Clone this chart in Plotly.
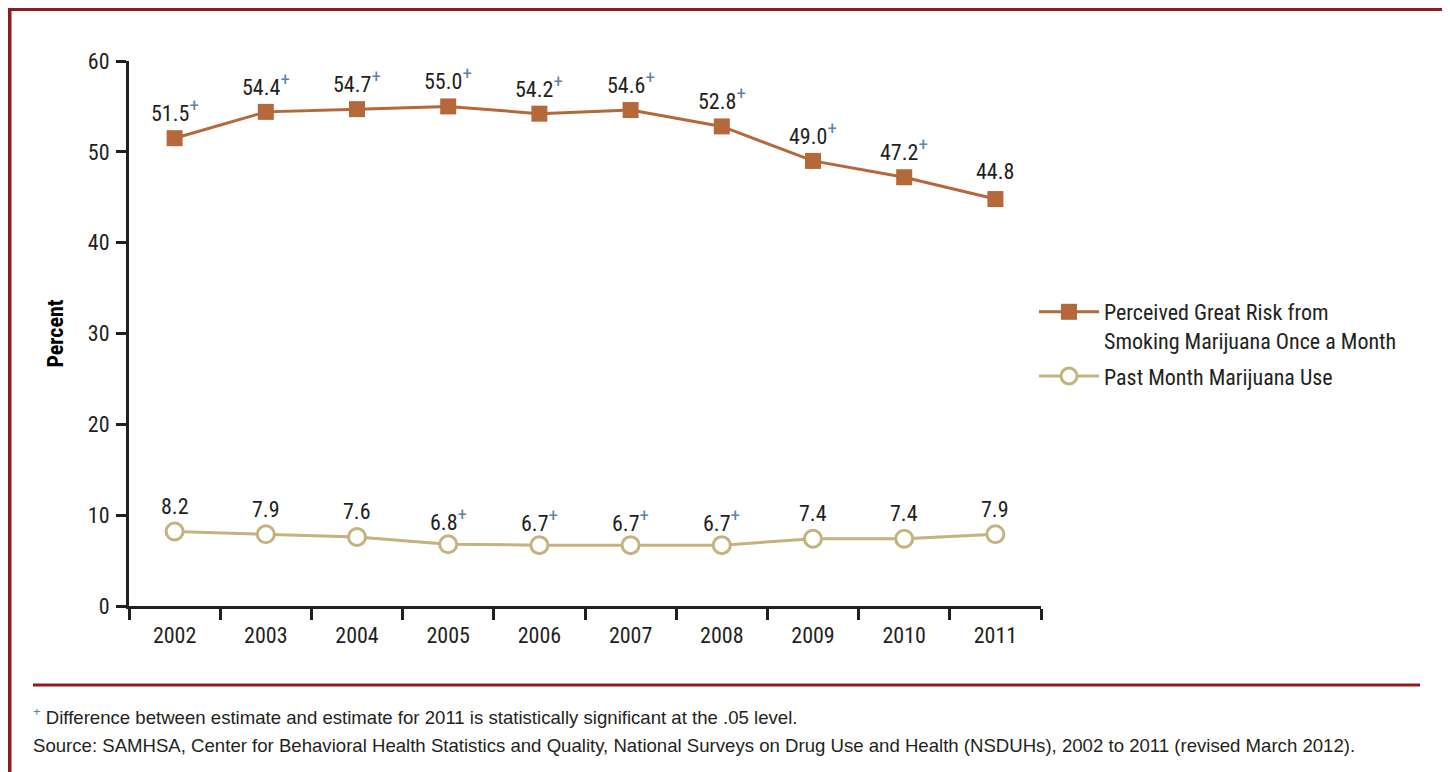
import plotly.graph_objects as go

years = ["2002", "2003", "2004", "2005", "2006", "2007", "2008", "2009", "2010", "2011"]
risk = [51.5, 54.4, 54.7, 55.0, 54.2, 54.6, 52.8, 49.0, 47.2, 44.8]
risk_sig = [True, True, True, True, True, True, True, True, True, False]
use = [8.2, 7.9, 7.6, 6.8, 6.7, 6.7, 6.7, 7.4, 7.4, 7.9]
use_sig = [False, False, False, True, True, True, True, False, False, False]
yticks = [0, 10, 20, 30, 40, 50, 60]

ORANGE = "#B5683A"
TAN = "#C4B37E"
PLUS = "#5B84A8"
DARK = "#231F20"
RED = "#8E1B1F"
COND = "Liberation Sans Narrow, Roboto Condensed, Arial Narrow, Roboto, sans-serif"
REG = "Liberation Sans, Arial, sans-serif"
FS = 22

# page body has an 8px margin; figure coordinates are page coordinates minus 8
W, H = 1442, 764
L, R, T, B = 121, 1033, 53, 598
PW, PH = R - L, B - T


def px(x):
    return (x - 8 - L) / PW


def py(y):
    return (B - (y - 8)) / PH


def lab(v, s):
    t = f"{v:.1f}"
    if s:
        t += f"<sup><span style='color:{PLUS};font-size:19px'>+</span></sup>"
    return t


fig = go.Figure()
fig.add_trace(go.Scatter(
    x=years, y=risk, mode="lines+markers",
    name="Perceived Great Risk from<br>Smoking Marijuana Once a Month",
    legendgroup="risk",
    line=dict(color=ORANGE, width=3),
    marker=dict(symbol="square", size=16, color=ORANGE),
    cliponaxis=False,
))
fig.add_trace(go.Scatter(
    x=years, y=use, mode="lines+markers",
    name="Past Month Marijuana Use",
    legendgroup="use",
    line=dict(color=TAN, width=3),
    marker=dict(symbol="circle", size=17, color="white", line=dict(color=TAN, width=3)),
    cliponaxis=False,
))

# data labels (category axis: annotation x is the category index)
for i, (v, s) in enumerate(zip(risk, risk_sig)):
    fig.add_annotation(x=i, y=v, xref="x", yref="y", text=lab(v, s), showarrow=False,
                       yanchor="middle", yshift=28,
                       font=dict(family=COND, size=FS, color=DARK))
for i, (v, s) in enumerate(zip(use, use_sig)):
    fig.add_annotation(x=i, y=v, xref="x", yref="y", text=lab(v, s), showarrow=False,
                       yanchor="middle", yshift=25,
                       font=dict(family=COND, size=FS, color=DARK))

fig.update_layout(
    width=W, height=H,
    margin=dict(l=L, r=W - R, t=T, b=H - B),
    paper_bgcolor="white", plot_bgcolor="white",
    font=dict(family=COND, size=FS, color=DARK),
    showlegend=True,
    legend=dict(
        x=px(1034), y=py(291), xanchor="left", yanchor="top",
        font=dict(family=COND, size=FS, color=DARK),
        itemwidth=60, valign="top", traceorder="grouped", tracegroupgap=4,
        bgcolor="rgba(0,0,0,0)",
    ),
    xaxis=dict(
        type="category", range=[-0.5, 9.5],
        showline=True, linecolor=DARK, linewidth=3,
        ticks="outside", ticklen=11, tickwidth=2.5, tickcolor=DARK,
        tickson="boundaries", showgrid=False, zeroline=False,
        ticklabelstandoff=8,
        tickfont=dict(family=COND, size=FS, color=DARK),
    ),
    yaxis=dict(
        range=[0, 60], tickvals=yticks,
        showline=True, linecolor=DARK, linewidth=3,
        ticks="outside", ticklen=10, tickwidth=2.5, tickcolor=DARK,
        showgrid=False, zeroline=False,
        ticklabelstandoff=2,
        tickfont=dict(family=COND, size=FS, color=DARK),
        title=dict(text="<b>Percent</b>", font=dict(family=COND, size=FS, color="#000"), standoff=19),
    ),
)

# frame
fig.add_shape(type="rect", xref="paper", yref="paper",
              x0=px(9.5), x1=px(1445), y0=py(790), y1=py(9),
              line=dict(color=RED, width=4), fillcolor="rgba(0,0,0,0)", layer="below")
# divider line
fig.add_shape(type="line", xref="paper", yref="paper",
              x0=px(33), x1=px(1420), y0=py(685), y1=py(685),
              line=dict(color=RED, width=3))

fig.add_annotation(xref="paper", yref="paper", x=px(31), y=py(716),
                   xanchor="left", yanchor="middle", showarrow=False,
                   text=f"<sup><span style='color:{PLUS};font-size:13px'>+</span></sup> Difference between estimate and estimate for 2011 is statistically significant at the .05 level.",
                   font=dict(family=REG, size=18.6, color=DARK))
fig.add_annotation(xref="paper", yref="paper", x=px(31), y=py(745),
                   xanchor="left", yanchor="middle", showarrow=False,
                   text="Source: SAMHSA, Center for Behavioral Health Statistics and Quality, National Surveys on Drug Use and Health (NSDUHs), 2002 to 2011 (revised March 2012).",
                   font=dict(family=REG, size=18.6, color=DARK))

fig.write_html("out.html")
